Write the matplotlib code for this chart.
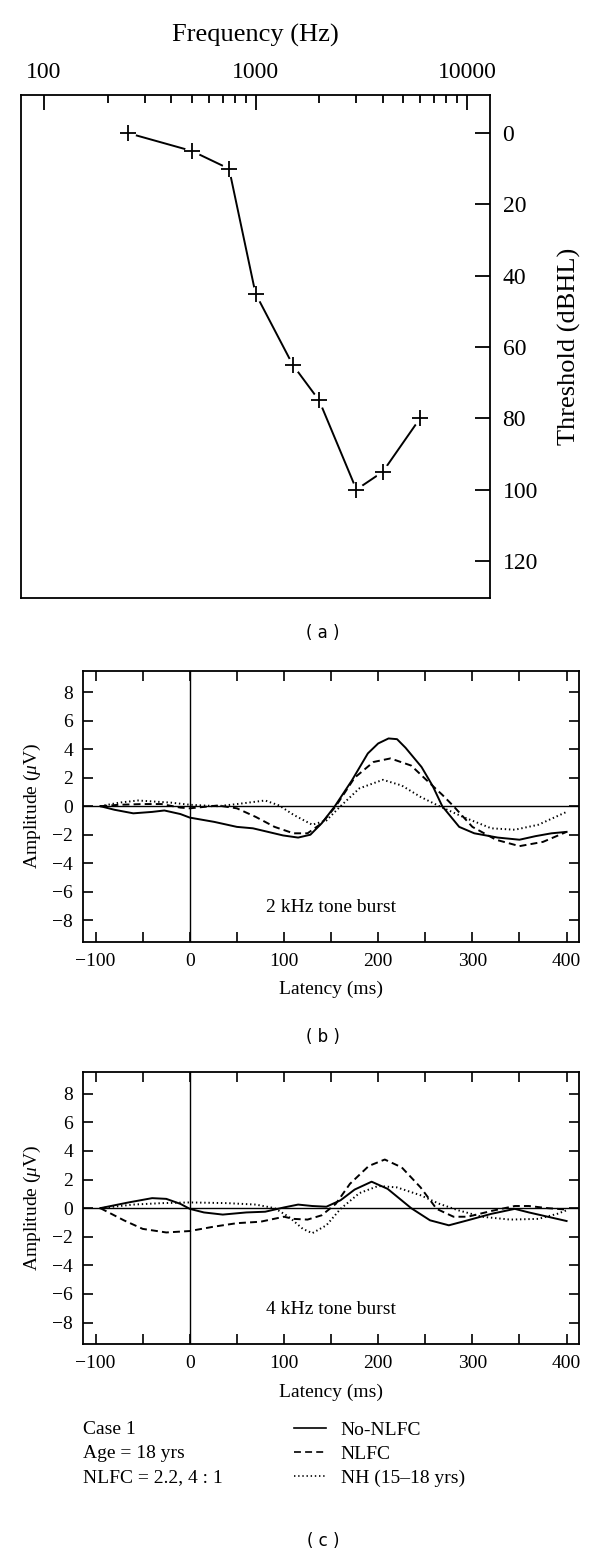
import matplotlib
matplotlib.use("Agg")
import matplotlib.pyplot as plt
from matplotlib.ticker import FixedLocator, MultipleLocator, FuncFormatter, NullFormatter

plt.rcParams['font.family'] = ['Liberation Serif', 'DejaVu Serif']
plt.rcParams['mathtext.fontset'] = 'custom'
plt.rcParams['mathtext.rm'] = 'Liberation Serif'
plt.rcParams['mathtext.it'] = 'Liberation Serif:italic'
plt.rcParams['lines.scale_dashes'] = False
plt.rcParams['axes.unicode_minus'] = True

# ---------------- data ----------------
freq_hz = [250, 500, 750, 1000, 1500, 2000, 3000, 4000, 6000]
threshold_db = [0, 5, 10, 45, 65, 75, 100, 95, 80]
freq_ticks = [100, 1000, 10000]
freq_tick_labels = ["100", "1000", "10000"]
thr_ticks = [0, 20, 40, 60, 80, 100, 120]

series_labels = ["No-NLFC", "NLFC", "NH (15\u201318 yrs)"]

b_nonlfc_ms = [-95, -80, -60, -40, -27, -10, 0, 26, 50, 67, 83, 99, 115, 128, 140, 154, 163, 172, 189, 200, 211, 220, 229, 246, 258, 268, 286, 302, 327, 350, 367, 384, 400]
b_nonlfc_uv = [0, -0.25, -0.5, -0.4, -0.3, -0.55, -0.8, -1.1, -1.45, -1.55, -1.8, -2.05, -2.2, -2.0, -1.2, 0.0, 0.9, 1.8, 3.7, 4.4, 4.75, 4.7, 4.1, 2.75, 1.4, 0.0, -1.45, -1.9, -2.2, -2.35, -2.1, -1.9, -1.8]
b_nlfc_ms = [-95, -75, -50, -30, -10, 0, 15, 30, 50, 70, 90, 110, 125, 140, 155, 165, 175, 195, 213, 235, 255, 268, 280, 300, 325, 350, 375, 400]
b_nlfc_uv = [0, 0.1, 0.15, 0.15, -0.1, -0.15, -0.05, 0.05, -0.15, -0.75, -1.45, -1.9, -1.9, -1.2, 0.0, 1.0, 2.0, 3.1, 3.35, 2.85, 1.6, 0.8, 0.0, -1.45, -2.35, -2.8, -2.5, -1.8]
b_nh_ms = [-95, -75, -55, -20, 0, 30, 50, 80, 95, 110, 130, 145, 160, 180, 205, 225, 245, 265, 290, 320, 345, 370, 400]
b_nh_uv = [0, 0.25, 0.4, 0.25, 0.1, 0.0, 0.15, 0.4, 0.05, -0.6, -1.3, -1.0, 0.0, 1.25, 1.85, 1.45, 0.65, 0.0, -0.75, -1.55, -1.65, -1.3, -0.4]

c_nonlfc_ms = [-95, -65, -40, -25, -10, 0, 15, 35, 60, 80, 100, 115, 130, 145, 160, 175, 193, 210, 235, 255, 275, 295, 320, 345, 360, 380, 400]
c_nonlfc_uv = [0, 0.4, 0.7, 0.65, 0.3, -0.05, -0.3, -0.45, -0.3, -0.25, 0.05, 0.25, 0.15, 0.1, 0.55, 1.3, 1.85, 1.35, 0.0, -0.85, -1.2, -0.85, -0.4, -0.05, -0.3, -0.6, -0.9]
c_nlfc_ms = [-95, -70, -50, -25, 0, 25, 50, 75, 100, 110, 125, 140, 155, 170, 190, 207, 225, 245, 262, 280, 295, 320, 345, 360, 380, 400]
c_nlfc_uv = [0, -0.85, -1.45, -1.7, -1.6, -1.3, -1.05, -0.95, -0.6, -0.75, -0.8, -0.5, 0.3, 1.7, 2.95, 3.4, 2.85, 1.45, -0.05, -0.6, -0.6, -0.2, 0.15, 0.15, 0.0, -0.1]
c_nh_ms = [-95, -60, -30, 0, 40, 70, 90, 105, 120, 130, 145, 160, 180, 200, 220, 245, 265, 285, 310, 340, 370, 390, 400]
c_nh_uv = [0, 0.25, 0.35, 0.4, 0.35, 0.25, 0.0, -0.6, -1.45, -1.75, -1.2, -0.05, 1.05, 1.55, 1.45, 0.9, 0.3, -0.15, -0.6, -0.8, -0.75, -0.4, -0.15]

case_lines = ["Case 1", "Age = 18 yrs", "NLFC = 2.2, 4 : 1"]

# ---------------- figure ----------------
W, H = 600, 1552
fig = plt.figure(figsize=(W / 100, H / 100), dpi=100)

def box(l, t, r, b):
    return [l / W, 1 - b / H, (r - l) / W, (b - t) / H]

# ---- panel (a) ----
axa = fig.add_axes(box(21, 95, 490, 598.3))
axa.plot(freq_hz, threshold_db, color='black', lw=1.4, zorder=2)
axa.plot(freq_hz, threshold_db, ls='none', marker='o', ms=11, mfc='white', mec='none', zorder=3)
axa.plot(freq_hz, threshold_db, ls='none', marker='+', ms=12, mew=1.3, color='black', zorder=4)
axa.set_xscale('log')
axa.set_xlim(77.8, 12850)
axa.set_ylim(130.5, -10.7)
axa.xaxis.set_major_locator(FixedLocator(freq_ticks))
axa.xaxis.set_major_formatter(FuncFormatter(lambda v, p: freq_tick_labels[freq_ticks.index(int(round(v)))] if int(round(v)) in freq_ticks else ""))
minor = [m * d for d in (100, 1000) for m in range(2, 10)]
axa.xaxis.set_minor_locator(FixedLocator(minor))
axa.xaxis.set_minor_formatter(NullFormatter())
axa.yaxis.set_major_locator(FixedLocator(thr_ticks))
axa.tick_params(axis='x', which='both', direction='in', bottom=False, labelbottom=False,
                top=True, labeltop=True, labelsize=17, pad=9, width=1.3)
axa.tick_params(axis='x', which='major', length=11)
axa.tick_params(axis='x', which='minor', length=6)
axa.tick_params(axis='y', direction='in', left=False, labelleft=False, right=True,
                labelright=True, labelsize=17, length=11, width=1.3, pad=9)
for s in axa.spines.values():
    s.set_linewidth(1.3)
axa.xaxis.set_label_position('top')
axa.set_xlabel("Frequency (Hz)", fontsize=19)
axa.xaxis.label.set_va('center')
axa.xaxis.set_label_coords(0.5, (598.3 - 35) / 503.3)
axa.yaxis.set_label_position('right')
axa.set_ylabel("Threshold (dBHL)", fontsize=19, rotation=90)
axa.yaxis.label.set_va('center')
axa.yaxis.set_label_coords((569 - 21) / 469, 0.5)

fig.text(323 / W, 1 - 633 / H, "( a )", family='DejaVu Sans', fontsize=12, ha='center', va='center')

# ---- ERP panels ----
dash = (0, (5.0, 3.0))
dot = (0, (1.0, 2.0))

def erp_panel(rect, s1, s2, s3, label):
    ax = fig.add_axes(rect)
    ax.axhline(0, color='black', lw=1.0, zorder=1)
    ax.axvline(0, color='black', lw=1.0, zorder=1)
    l1, = ax.plot(s1[0], s1[1], color='black', lw=1.4, ls='-', label=series_labels[0], zorder=3)
    l2, = ax.plot(s2[0], s2[1], color='black', lw=1.4, ls=dash, label=series_labels[1], zorder=3)
    l3, = ax.plot(s3[0], s3[1], color='black', lw=1.4, ls=dot, label=series_labels[2], zorder=3)
    ax.set_xlim(-113.7, 413.5)
    ax.set_ylim(-9.5, 9.5)
    ax.xaxis.set_major_locator(MultipleLocator(100))
    ax.xaxis.set_minor_locator(MultipleLocator(50))
    ax.yaxis.set_major_locator(FixedLocator([-8, -6, -4, -2, 0, 2, 4, 6, 8]))
    ax.tick_params(which='both', direction='in', top=True, right=True, length=7, width=1.2,
                   labelsize=14)
    ax.tick_params(axis='x', pad=8)
    ax.tick_params(axis='y', pad=7)
    for s in ax.spines.values():
        s.set_linewidth(1.3)
    ax.text(150, -7.1, label, fontsize=14, ha='center', va='center')
    ax.set_xlabel("Latency (ms)", fontsize=14)
    ax.xaxis.label.set_va('center')
    ax.xaxis.set_label_coords(0.5, -0.177)
    ax.set_ylabel(r"Amplitude ($\mathit{\mu}$V)", fontsize=14)
    ax.yaxis.label.set_va('center')
    ax.yaxis.set_label_coords((32 - 82.7) / 496.6, 0.5)
    return ax, (l1, l2, l3)

axb, _ = erp_panel(box(82.7, 670.7, 579.3, 941.7), (b_nonlfc_ms, b_nonlfc_uv),
                   (b_nlfc_ms, b_nlfc_uv), (b_nh_ms, b_nh_uv), "2 kHz tone burst")
fig.text(323 / W, 1 - 1037 / H, "( b )", family='DejaVu Sans', fontsize=12, ha='center', va='center')

axc, handles = erp_panel(box(82.7, 1072.3, 579.3, 1344), (c_nonlfc_ms, c_nonlfc_uv),
                         (c_nlfc_ms, c_nlfc_uv), (c_nh_ms, c_nh_uv), "4 kHz tone burst")

rows_y = [1430, 1454, 1478]
for txt, yy in zip(case_lines, rows_y):
    fig.text(82.7 / W, 1 - yy / H, txt, fontsize=14, ha='left', va='center')

leg = fig.legend(handles=list(handles), labels=series_labels, loc='upper left',
                 bbox_to_anchor=(294 / W, 1 - 1421 / H), frameon=False, fontsize=14,
                 handlelength=1.65, handletextpad=0.75, labelspacing=0.33, borderpad=0,
                 borderaxespad=0)
for ln in leg.get_lines():
    ln.set_linewidth(1.2)

fig.text(323 / W, 1 - 1541 / H, "( c )", family='DejaVu Sans', fontsize=12, ha='center', va='center')

fig.savefig("out.png", dpi=100)
